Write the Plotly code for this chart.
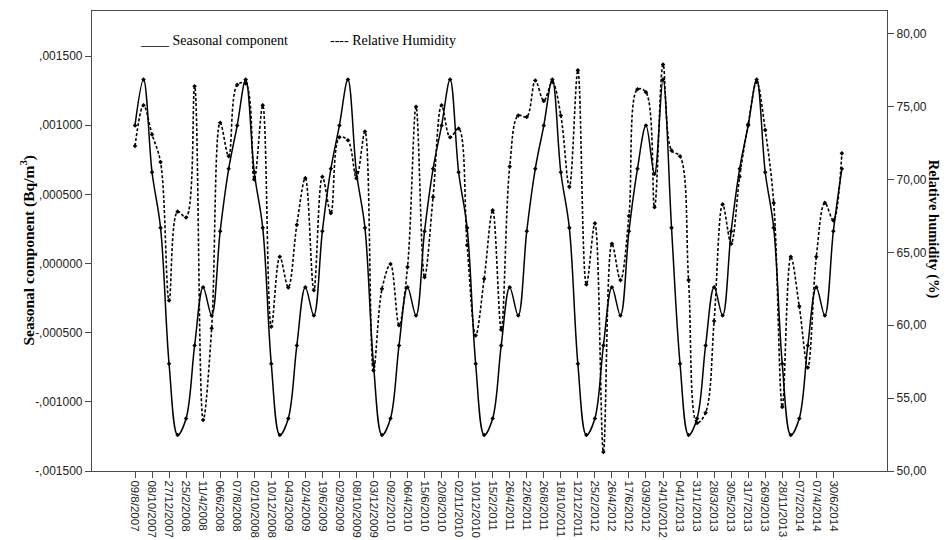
import plotly.graph_objects as go

dates = ["09/8/2007", "08/10/2007", "27/12/2007", "25/2/2008", "11/4/2008", "06/6/2008",
         "07/8/2008", "02/10/2008", "10/12/2008", "04/3/2009", "02/4/2009", "19/6/2009",
         "02/9/2009", "08/10/2009", "03/12/2009", "09/2/2010", "06/4/2010", "15/6/2010",
         "20/8/2010", "02/11/2010", "10/12/2010", "15/2/2011", "26/4/2011", "22/6/2011",
         "26/8/2011", "18/10/2011", "12/12/2011", "25/2/2012", "26/4/2012", "17/6/2012",
         "03/9/2012", "24/10/2012", "04/1/2013", "31/1/2013", "28/3/2013", "30/5/2013",
         "31/7/2013", "26/9/2013", "28/11/2013", "07/2/2014", "07/4/2014", "30/6/2014"]

seasonal = [
    0.000998,
    0.00133, 0.00066, 0.000258, -0.000725, -0.00124, -0.00112, -0.000593, -0.000171, -0.000376, 0.000234, 0.000685, 0.000998,
    0.00133, 0.00066, 0.000258, -0.000725, -0.00124, -0.00112, -0.000593, -0.000171, -0.000376, 0.000234, 0.000685, 0.000998,
    0.00133, 0.00066, 0.000258, -0.000725, -0.00124, -0.00112, -0.000593, -0.000171, -0.000376, 0.000234, 0.000685, 0.000998,
    0.00133, 0.00066, 0.000258, -0.000725, -0.00124, -0.00112, -0.000593, -0.000171, -0.000376, 0.000234, 0.000685, 0.000998,
    0.00133, 0.00066, 0.000258, -0.000725, -0.00124, -0.00112, -0.000593, -0.000171, -0.000376, 0.000234, 0.000685, 0.000998,
    0.000648, 0.00133,
    0.000258, -0.000725, -0.00124, -0.00112, -0.000593, -0.000171, -0.000376, 0.000234, 0.000685, 0.000998,
    0.00133, 0.00066, 0.000258, -0.000725, -0.00124, -0.00112, -0.000593, -0.000171, -0.000376, 0.000234, 0.000685,
]

humidity = [
    72.3, 75.1, 73.1, 71.2, 61.7, 67.8, 67.4, 76.4, 53.5, 59.8, 73.9, 71.6,
    76.5, 76.6, 70.0, 75.1, 59.9, 64.7, 62.6, 66.9, 70.1, 62.4, 70.2, 67.7,
    72.9, 72.7, 70.1, 73.3, 56.9, 62.5, 64.2, 60.0, 64.0, 75.0, 63.3, 68.8,
    75.1, 72.9, 73.5, 65.5, 59.3, 63.2, 67.9, 59.7, 70.9, 74.4, 74.3, 76.8,
    75.4, 76.7, 74.4, 69.5, 77.5, 62.8, 67.0, 51.3, 65.6, 63.1, 67.5, 76.2,
    76.0, 68.1, 77.9, 72.0, 71.6, 63.1, 53.3, 54.0, 60.3, 68.3, 65.6, 70.2,
    73.8, 76.7, 73.4, 68.4, 54.4, 64.7, 61.3, 57.1, 64.7, 68.4, 67.2, 71.8,
]

left_ticks = [-0.0015, -0.001, -0.0005, 0.0, 0.0005, 0.001, 0.0015]
left_labels = ["-,001500", "-,001000", "-,000500", ",000000", ",000500", ",001000", ",001500"]
right_ticks = [50, 55, 60, 65, 70, 75, 80]
right_labels = ["50,00", "55,00", "60,00", "65,00", "70,00", "75,00", "80,00"]

idx = list(range(len(seasonal)))
tick_idx = idx[::2]

AX = "#4a4a4a"
SANS = "Liberation Sans, Arial, sans-serif"
SERIF = "Liberation Serif, Times New Roman, serif"

fig = go.Figure()
fig.add_trace(go.Scatter(
    x=idx, y=seasonal, mode="lines+markers", name="Seasonal component",
    line=dict(color="black", width=1.5, shape="spline", smoothing=1.0),
    marker=dict(color="black", size=3.5, symbol="diamond"),
    yaxis="y", showlegend=False))
fig.add_trace(go.Scatter(
    x=idx, y=humidity, mode="lines+markers", name="Relative Humidity",
    line=dict(color="black", width=1.6, dash="3px,2px", shape="spline", smoothing=1.0),
    marker=dict(color="black", size=3.5, symbol="diamond"),
    yaxis="y2", showlegend=False))

fig.update_layout(
    width=950, height=540,
    margin=dict(l=92, r=63, t=11, b=69, autoexpand=False),
    paper_bgcolor="white", plot_bgcolor="white",
    xaxis=dict(range=[-5.05, 88.3], tickmode="array", tickvals=tick_idx, ticktext=dates,
               tickangle=90, ticks="outside", ticklen=6, tickcolor=AX,
               tickfont=dict(family=SANS, size=11.5, color="#222"),
               showgrid=False, zeroline=False, showline=True, linecolor=AX, linewidth=1.2,
               mirror=True, automargin=False),
    yaxis=dict(range=[-0.0015, 0.001826], tickmode="array", tickvals=left_ticks,
               ticktext=left_labels, ticks="outside", ticklen=6, tickcolor=AX,
               tickfont=dict(family=SANS, size=12, color="#222"),
               showgrid=False, zeroline=False, showline=True, linecolor=AX, linewidth=1.2,
               automargin=False),
    yaxis2=dict(range=[50, 81.57], overlaying="y", side="right", tickmode="array",
                tickvals=right_ticks, ticktext=right_labels, ticks="outside", ticklen=6,
                tickcolor=AX, tickfont=dict(family=SANS, size=12, color="#222"),
                showgrid=False, zeroline=False, showline=True, linecolor=AX, linewidth=1.2,
                automargin=False),
    annotations=[
        dict(text="<b>Seasonal component (Bq/m<sup>3</sup>)</b>", xref="paper", yref="paper",
             x=-0.097, y=0.48, textangle=-90, showarrow=False,
             font=dict(family=SERIF, size=15.5, color="black")),
        dict(text="<b>Relative humidity (%)</b>", xref="paper", yref="paper",
             x=1.072, y=0.525, textangle=90, showarrow=False,
             font=dict(family=SERIF, size=14.5, color="black")),
        dict(text="____ Seasonal component", xref="paper", yref="paper",
             x=0.058, y=0.957, xanchor="left", showarrow=False,
             font=dict(family=SERIF, size=14, color="black")),
        dict(text="---- Relative Humidity", xref="paper", yref="paper",
             x=0.297, y=0.957, xanchor="left", showarrow=False,
             font=dict(family=SERIF, size=14, color="black")),
    ],
)

fig.write_html("out.html")
